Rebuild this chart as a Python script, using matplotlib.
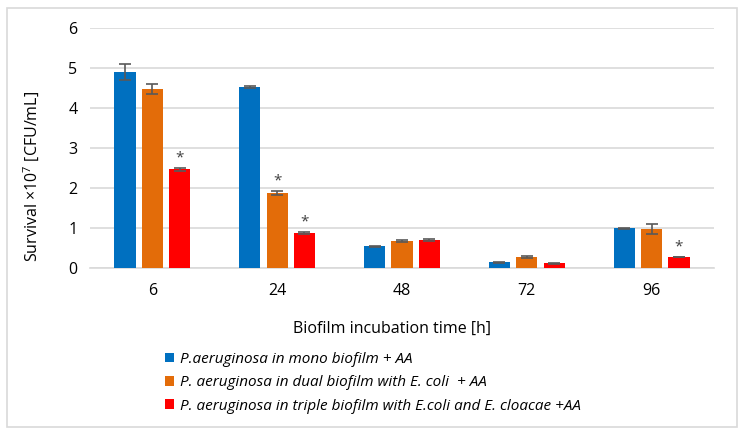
import matplotlib
matplotlib.use("Agg")
import matplotlib.pyplot as plt
import numpy as np
from matplotlib.patches import Rectangle

categories = ["6", "24", "48", "72", "96"]
series_names = [
    "P.aeruginosa in mono biofilm + AA",
    "P. aeruginosa in dual biofilm with E. coli  + AA",
    "P. aeruginosa in triple biofilm with E.coli and E. cloacae +AA",
]
mono = [4.89, 4.52, 0.55, 0.15, 1.00]
mono_err = [0.20, 0.03, 0.015, 0.01, 0.01]
dual = [4.47, 1.88, 0.68, 0.28, 0.98]
dual_err = [0.12, 0.05, 0.015, 0.015, 0.12]
triple = [2.47, 0.88, 0.71, 0.12, 0.28]
triple_err = [0.04, 0.02, 0.02, 0.01, 0.01]
# significance markers (series index, category index)
stars = [(2, 0), (1, 1), (2, 1), (2, 4)]

colors = ["#0070C0", "#E36C09", "#FF0000"]

plt.rcParams['font.family'] = ['Open Sans', 'DejaVu Sans']
plt.rcParams['mathtext.default'] = 'regular'

fig = plt.figure(figsize=(7.43, 4.36), dpi=100)
ax = fig.add_axes([0.121, 0.385, 0.840, 0.551])

x = np.arange(len(categories))
width = 0.17
step = 0.219
vals = [mono, dual, triple]
errs = [mono_err, dual_err, triple_err]
for i, (v, e, c, n) in enumerate(zip(vals, errs, colors, series_names)):
    ax.bar(x + (i - 1) * step, v, width, color=c, label=n, zorder=3,
           yerr=e, error_kw=dict(ecolor="#595959", elinewidth=1.2, capsize=4, capthick=1.2, zorder=4))

for s, c in stars:
    top = vals[s][c] + errs[s][c]
    ax.text(x[c] + (s - 1) * step, top + 0.06, "*", ha="center", va="bottom",
            fontsize=11, color="#404040", zorder=5)

ax.set_ylim(0, 6)
ax.set_xlim(-0.5, len(categories) - 0.5)
ax.set_yticks(range(0, 7))
ax.set_xticks(x)
ax.set_xticklabels(categories)
ax.yaxis.grid(True, color="#d9d9d9", linewidth=1.2, zorder=0)
ax.set_axisbelow(True)
for sp in ["top", "right", "left"]:
    ax.spines[sp].set_visible(False)
ax.spines["bottom"].set_color("#d9d9d9")
ax.spines["bottom"].set_linewidth(1.2)
ax.tick_params(axis="x", length=0, labelsize=11.5, colors="#000000", pad=11)
ax.tick_params(axis="y", length=0, labelsize=11.5, colors="#000000", pad=9)
ax.set_ylabel(r"Survival $\times$10$^7$ [CFU/mL]", fontsize=11.5)
ax.yaxis.set_label_coords(-0.077, 0.38)
ax.set_xlabel("Biofilm incubation time [h]", fontsize=11.5)
ax.xaxis.set_label_coords(0.484, -0.22)

leg = fig.legend(loc="upper left", bbox_to_anchor=(0.214, 0.207), frameon=False,
                 prop=dict(style="italic", size=11), handlelength=0.6, handleheight=0.6,
                 handletextpad=0.4, labelspacing=0.55, borderaxespad=0)

fig.patches.append(Rectangle((0.0094, 0.0206), 0.9825, 0.961, transform=fig.transFigure,
                             fill=False, edgecolor="#d9d9d9", linewidth=1.2))

fig.savefig("out.png", dpi=100)
